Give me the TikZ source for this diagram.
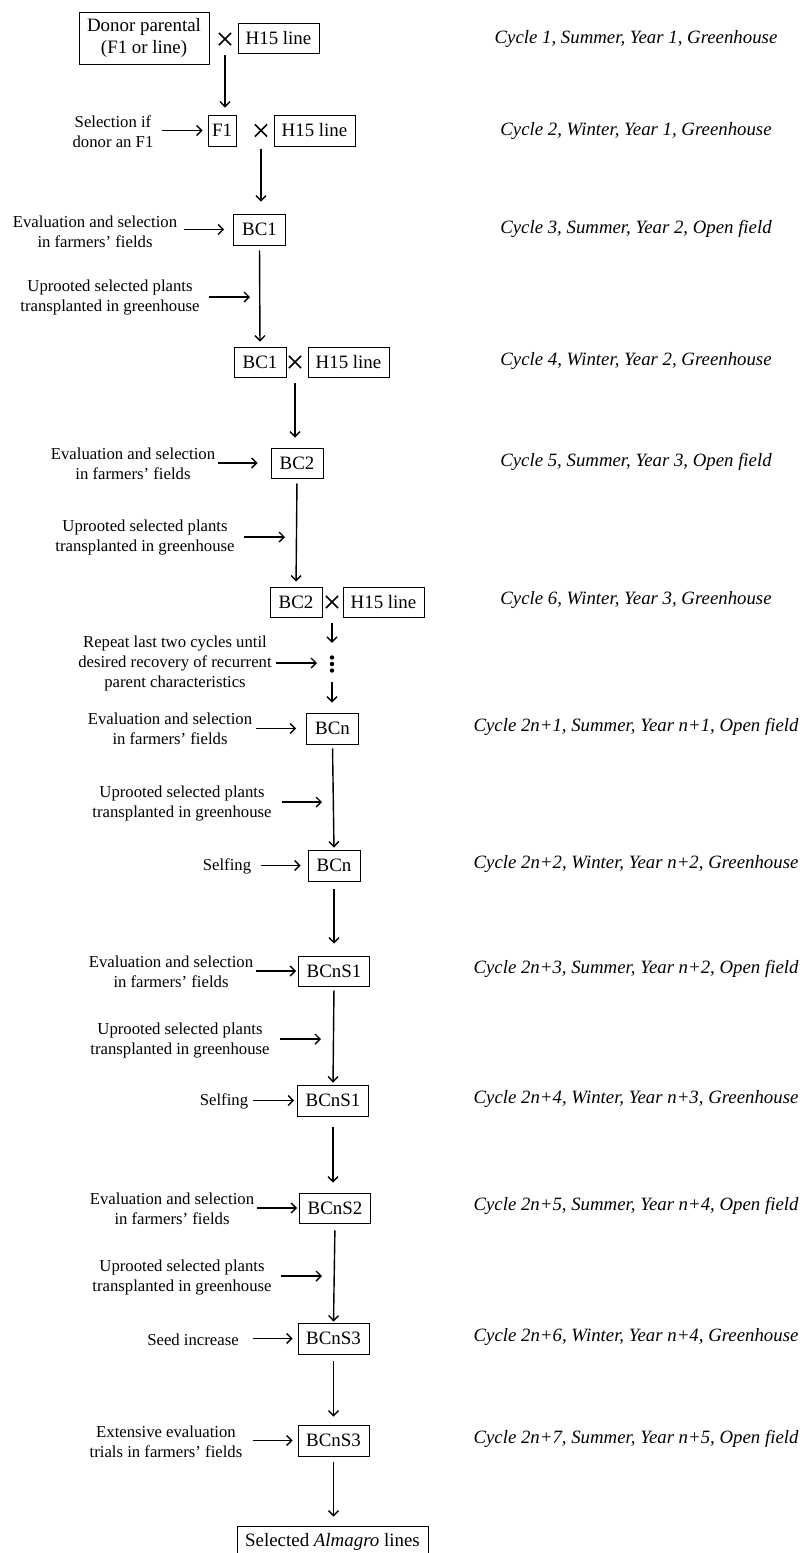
\documentclass[tikz,border=0pt]{standalone}
\usepackage{fontspec}
\setmainfont{Liberation Serif}
\usetikzlibrary{arrows.meta,calc,shapes.misc}
\begin{document}
\begin{tikzpicture}[x=1pt,y=-1pt,
  font=\fontsize{16.7}{20}\selectfont,
  box/.style={draw, line width=0.9pt, inner sep=0pt, minimum height=31pt, align=center, font=\fontsize{18.9}{22}\selectfont},
  bcbox/.style={box, minimum width=52pt},
  bcsbox/.style={box, minimum width=71pt},
  hbox/.style={box, minimum width=81pt},
  lbl/.style={align=center, inner sep=0pt},
  cyc/.style={font=\fontsize{18.8}{22}\selectfont\itshape, inner sep=0pt},
  cross/.style={cross out, draw, line width=1.6pt, minimum size=10.5pt, inner sep=0pt},
  arr/.style={-{Straight Barb[length=5pt,width=10pt]}, line width=1.4pt}]
\useasboundingbox (0,0) rectangle (801,1553);

% ---- main column boxes ----
\node[box, minimum width=130pt, minimum height=52pt] (donor) at (144,38) {\raisebox{-1pt}{Donor parental}\\\raisebox{-1pt}{(F1 or line)}};
\node[cross] (x1) at (225,39) {};
\node[hbox, minimum height=30pt] (h1) at (278.5,38) {H15 line};

\node[box, minimum width=28pt] (F1) at (222,130.5) {F1};
\node[cross] (x2) at (261,130.5) {};
\node[hbox] (h2) at (314.5,130.5) {H15 line};

\node[bcbox] (BC1) at (259.5,229.5) {BC1};

\node[bcbox, minimum height=30pt] (BC1b) at (260,362) {BC1};
\node[cross] (x3) at (295,362) {};
\node[hbox, minimum height=30pt] (h3) at (348.5,362) {H15 line};

\node[bcbox, minimum height=30pt] (BC2) at (297,463) {BC2};

\node[bcbox, minimum height=30pt] (BC2b) at (296,602) {BC2};
\node[cross] (x4) at (332,602) {};
\node[hbox, minimum height=30pt] (h4) at (383.5,602) {H15 line};

\node[inner sep=0pt, minimum width=6pt, minimum height=36pt] (dots) at (332,664) {};
\fill (dots.center) circle (2.2pt);
\fill ($(dots.center)+(0,-6.5)$) circle (2.2pt);
\fill ($(dots.center)+(0,6.5)$) circle (2.2pt);

\node[bcbox] (BCn) at (332.5,728.5) {BCn};
\node[bcbox] (BCn2) at (334,865.5) {BCn};
\node[bcsbox, minimum height=30pt] (S1) at (334,971) {BCnS1};
\node[bcsbox] (S1b) at (333,1100.5) {BCnS1};
\node[bcsbox, minimum height=30pt] (S2) at (335,1208) {BCnS2};
\node[bcsbox] (S3) at (333.5,1338.5) {BCnS3};
\node[bcsbox] (S3b) at (333.5,1440.5) {BCnS3};
\node[box, minimum width=191pt] (sel) at (332.5,1541.5) {Selected \textit{Almagro} lines};

% ---- vertical connectors ----
\draw[arr, shorten <=10pt, shorten >=7pt] (x1.south) -- (x1.south |- F1.north);
\draw[arr, shorten <=12pt, shorten >=12pt] (x2.south) -- (x2.south |- BC1.north);
\draw[arr, shorten <=5pt, shorten >=5pt] (BC1.south) -- (BC1b.north);
\draw[arr, shorten <=15pt, shorten >=10pt] (x3.south) -- (x3.south |- BC2.north);
\draw[arr, shorten <=5pt, shorten >=5pt] (BC2.south) -- (BC2b.north);
\draw[arr, shorten <=15pt, shorten >=3pt] (x4.south) -- (dots.north);
\draw[arr, shorten >=10pt] (dots.south) -- (dots.south |- BCn.north);
\draw[arr, shorten <=4pt, shorten >=2pt] (BCn.south) -- (BCn2.north);
\draw[arr, shorten <=8pt, shorten >=12pt] (BCn2.south) -- (BCn2.south |- S1.north);
\draw[arr, shorten <=4pt, shorten >=2pt] (S1.south) -- (S1b.north);
\draw[arr, shorten <=11pt, shorten >=10pt] (S1b.south) -- (S1b.south |- S2.north);
\draw[arr, shorten <=7pt, shorten >=1pt] (S2.south) -- (S3.north);
\draw[arr, shorten <=7pt, shorten >=8pt] (S3.south) -- (S3.south |- S3b.north);
\draw[arr, shorten <=6pt, shorten >=9pt] (S3b.south) -- (S3b.south |- sel.north);

% ---- left labels ----
\node[lbl] (t1) at (113,132) {Selection if\\donor an F1};
\node[lbl] (t2) at (95,232) {Evaluation and selection\\in farmers’ fields};
\node[lbl] (t3) at (110,298) {Uprooted selected plants\\transplanted in greenhouse};
\node[lbl] (t4) at (133,463.5) {Evaluation and selection\\in farmers’ fields};
\node[lbl] (t5) at (145,538) {Uprooted selected plants\\transplanted in greenhouse};
\node[lbl] (t6) at (175,663) {Repeat last two cycles until\\desired recovery of recurrent\\parent characteristics};
\node[lbl] (t7) at (170,729) {Evaluation and selection\\in farmers’ fields};
\node[lbl] (t8) at (182,803) {Uprooted selected plants\\transplanted in greenhouse};
\node[lbl] (t9) at (227,866) {Selfing};
\node[lbl] (t10) at (171,971.5) {Evaluation and selection\\in farmers’ fields};
\node[lbl] (t11) at (180,1040) {Uprooted selected plants\\transplanted in greenhouse};
\node[lbl] (t12) at (224,1101) {Selfing};
\node[lbl] (t13) at (172,1208.5) {Evaluation and selection\\in farmers’ fields};
\node[lbl] (t14) at (182,1277) {Uprooted selected plants\\transplanted in greenhouse};
\node[lbl] (t15) at (193,1340) {Seed increase};
\node[lbl] (t16) at (166,1442) {Extensive evaluation\\trials in farmers’ fields};

% ---- free ends on the vertical lines ----
\coordinate (u1) at (250,297);
\coordinate (u2) at (285,537);
\coordinate (u3) at (322,802);
\coordinate (u4) at (321,1039);
\coordinate (u5) at (322,1276);

% ---- horizontal connectors ----
\draw[arr] ($(F1.west)+(-46,0)$) -- ($(F1.west)+(-5,0)$);
\draw[arr] ($(BC1.west)+(-49,0)$) -- ($(BC1.west)+(-9,0)$);
\draw[arr] ($(u1)+(-41,0)$) -- (u1);
\draw[arr] ($(BC2.west)+(-53,0)$) -- ($(BC2.west)+(-13,0)$);
\draw[arr] ($(u2)+(-41,0)$) -- (u2);
\draw[arr] ($(dots.center)+(-56,-1)$) -- ($(dots.center)+(-15,-1)$);
\draw[arr] ($(BCn.west)+(-50,0)$) -- ($(BCn.west)+(-10,0)$);
\draw[arr] ($(u3)+(-40,0)$) -- (u3);
\draw[arr] ($(BCn2.west)+(-47,0)$) -- ($(BCn2.west)+(-7,0)$);
\draw[arr] ($(S1.west)+(-42,0)$) -- ($(S1.west)+(-2,0)$);
\draw[arr] ($(u4)+(-41,0)$) -- (u4);
\draw[arr] ($(S1b.west)+(-44,0)$) -- ($(S1b.west)+(-3,0)$);
\draw[arr] ($(S2.west)+(-42,0)$) -- ($(S2.west)+(-2,0)$);
\draw[arr] ($(u5)+(-41,0)$) -- (u5);
\draw[arr] ($(S3.west)+(-45,0)$) -- ($(S3.west)+(-5,0)$);
\draw[arr] ($(S3b.west)+(-45,0)$) -- ($(S3b.west)+(-5,0)$);

% ---- right column ----
\node[cyc] (c1) at (636,39) {Cycle 1, Summer, Year 1, Greenhouse};
\node[cyc] (c2) at (636,131) {Cycle 2, Winter, Year 1, Greenhouse};
\node[cyc] (c3) at (636,229) {Cycle 3, Summer, Year 2, Open field};
\node[cyc] (c4) at (636,361) {Cycle 4, Winter, Year 2, Greenhouse};
\node[cyc] (c5) at (636,462) {Cycle 5, Summer, Year 3, Open field};
\node[cyc] (c6) at (636,600) {Cycle 6, Winter, Year 3, Greenhouse};
\node[cyc] (c7) at (636,727) {Cycle 2n+1, Summer, Year n+1, Open field};
\node[cyc] (c8) at (636,864) {Cycle 2n+2, Winter, Year n+2, Greenhouse};
\node[cyc] (c9) at (636,969) {Cycle 2n+3, Summer, Year n+2, Open field};
\node[cyc] (c10) at (636,1099) {Cycle 2n+4, Winter, Year n+3, Greenhouse};
\node[cyc] (c11) at (636,1206) {Cycle 2n+5, Summer, Year n+4, Open field};
\node[cyc] (c12) at (636,1337) {Cycle 2n+6, Winter, Year n+4, Greenhouse};
\node[cyc] (c13) at (636,1439) {Cycle 2n+7, Summer, Year n+5, Open field};
\end{tikzpicture}
\end{document}
